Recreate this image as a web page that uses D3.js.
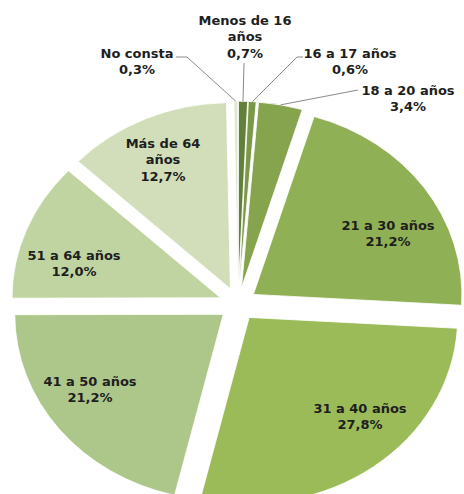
<!DOCTYPE html>
<html>
<head>
<meta charset="utf-8">
<script src="https://cdnjs.cloudflare.com/ajax/libs/d3/7.8.5/d3.min.js"></script>
<style>
  html, body { margin: 0; padding: 0; background: #fff; }
  svg { display: block; }
  .lbl { font: bold 13px 'DejaVu Sans', sans-serif; fill: #1e1e1e; text-anchor: middle; }
  .leader { fill: none; stroke: #8a8a8a; stroke-width: 1; }
</style>
</head>
<body>
<svg width="464" height="494"></svg>
<script>
// age groups, clockwise from 12 o'clock
const categories = ['Menos de 16 años', '16 a 17 años', '18 a 20 años', '21 a 30 años',
  '31 a 40 años', '41 a 50 años', '51 a 64 años', 'Más de 64 años', 'No consta']
const shares = [0.7, 0.6, 3.4, 21.2, 27.8, 21.2, 12.0, 12.7, 0.3]
const colors = ['#63803a', '#7a9848', '#86a34e', '#8fb054', '#9bbb59',
  '#adc689', '#c0d4a1', '#d1deb9', '#dfe8cf']

// label placement (centre x, first line centre y), line breaks and leader lines
const labelLayout = {
  'Menos de 16 años': {x: 245, y: 20, lines: ['Menos de 16', 'años'], leader: [[244, 63]]},
  '16 a 17 años': {x: 350, y: 53, leader: [[303, 57], [297, 57]]},
  '18 a 20 años': {x: 408, y: 90, leader: [[358, 90]]},
  '21 a 30 años': {x: 388, y: 225},
  '31 a 40 años': {x: 360, y: 408},
  '41 a 50 años': {x: 90, y: 381},
  '51 a 64 años': {x: 74, y: 255},
  'Más de 64 años': {x: 163, y: 143, lines: ['Más de 64', 'años']},
  'No consta': {x: 137, y: 53, leader: [[176, 57], [187, 57]]}
}

const cx = 238, cy = 304, R = 200
const sx = 1.0425, sy = 0.93   // the pie is slightly squashed in the picture
const explode = 18
const lineH = 16.5

const svg = d3.select('svg')
const fmt = v => d3.format('.1f')(v).replace('.', ',') + '%'

const pie = d3.pie().sort(null).value(d => d.value)
const arc = d3.arc().innerRadius(0).outerRadius(R)
const slices = pie(categories.map((c, i) => ({name: c, value: shares[i], color: colors[i]})))

const mid = d => (d.startAngle + d.endAngle) / 2
const offset = d => [explode * sx * Math.sin(mid(d)), -explode * sy * Math.cos(mid(d))]

svg.append('g').selectAll('path')
  .data(slices)
  .enter()
  .append('path')
  .attr('transform', d => {
    const o = offset(d)
    return 'translate(' + (cx + o[0]) + ',' + (cy + o[1]) + ') scale(' + sx + ',' + sy + ')'
  })
  .attr('d', arc)
  .attr('fill', d => d.data.color)
  .attr('stroke', '#fff')
  .attr('stroke-width', 0.8)
  .attr('vector-effect', 'non-scaling-stroke')

// leader lines for the thin slices
const withLeader = slices.filter(d => labelLayout[d.data.name].leader)
svg.append('g').selectAll('path')
  .data(withLeader)
  .enter()
  .append('path')
  .attr('class', 'leader')
  .attr('d', d => {
    const o = offset(d)
    const end = [cx + o[0] + R * sx * Math.sin(mid(d)), cy + o[1] - R * sy * Math.cos(mid(d))]
    return d3.line()(labelLayout[d.data.name].leader.concat([end]))
  })

const labels = svg.append('g').selectAll('text')
  .data(slices)
  .enter()
  .append('text')
  .attr('class', 'lbl')
  .attr('x', d => labelLayout[d.data.name].x)
  .attr('y', d => labelLayout[d.data.name].y)

labels.each(function (d) {
  const lay = labelLayout[d.data.name]
  const lines = (lay.lines || [d.data.name]).concat([fmt(d.data.value)])
  d3.select(this).selectAll('tspan')
    .data(lines)
    .enter()
    .append('tspan')
    .attr('x', lay.x)
    .attr('y', (t, i) => lay.y + i * lineH)
    .attr('dy', '0.36em')
    .text(t => t)
})
</script>
</body>
</html>
